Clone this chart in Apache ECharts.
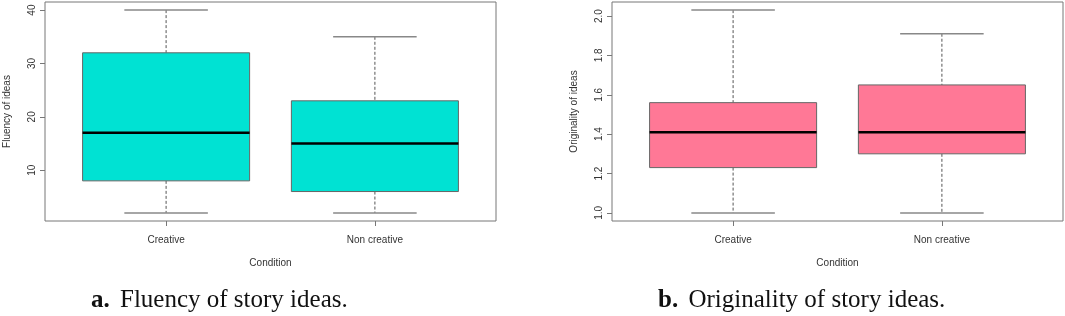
<!DOCTYPE html>
<html>
<head>
<meta charset="utf-8">
<script src="https://cdn.jsdelivr.net/npm/echarts@6/dist/echarts.min.js"></script>
<style>
	html, body { margin: 0; padding: 0; background: #fff; }
	#main { width: 1065px; height: 316px; }
</style>
</head>
<body>
<div id="main"></div>
<script>
// categories and box stats (low whisker, Q1, median, Q3, high whisker)
var categories = ['Creative', 'Non creative'];

var fluencyLow = [2, 2];
var fluencyQ1 = [8, 6];
var fluencyMedian = [17, 15];
var fluencyQ3 = [32, 23];
var fluencyHigh = [40, 35];

var origLow = [1.0, 1.0];
var origQ1 = [1.23, 1.30];
var origMedian = [1.41, 1.41];
var origQ3 = [1.56, 1.65];
var origHigh = [2.03, 1.91];

var fluencyTicks = [10, 20, 30, 40];
var origTicks = [1.0, 1.2, 1.4, 1.6, 1.8, 2.0];

function buildRows(low, q1, med, q3, high) {
	var rows = [];
	for (var i = 0; i < categories.length; i++) {
		rows.push([i + 1, low[i], q1[i], med[i], q3[i], high[i]]);
	}
	return rows;
}

// R style box: dashed whiskers, staples, filled box, thick median
function makeRender(fill) {
	return function (params, api) {
		var x = api.value(0);
		var low = api.coord([x, api.value(1)]);
		var q1 = api.coord([x, api.value(2)]);
		var med = api.coord([x, api.value(3)]);
		var q3 = api.coord([x, api.value(4)]);
		var high = api.coord([x, api.value(5)]);
		var l = api.coord([x - 0.4, 0])[0];
		var r = api.coord([x + 0.4, 0])[0];
		var sl = api.coord([x - 0.2, 0])[0];
		var sr = api.coord([x + 0.2, 0])[0];
		var cx = low[0];
		return {
			type: 'group',
			children: [
				{ type: 'line', shape: { x1: cx, y1: high[1], x2: cx, y2: q3[1] }, style: { stroke: '#555', lineWidth: 1, lineDash: [3, 2] } },
				{ type: 'line', shape: { x1: cx, y1: q1[1], x2: cx, y2: low[1] }, style: { stroke: '#555', lineWidth: 1, lineDash: [3, 2] } },
				{ type: 'line', shape: { x1: sl, y1: high[1], x2: sr, y2: high[1] }, style: { stroke: '#888', lineWidth: 1.5 } },
				{ type: 'line', shape: { x1: sl, y1: low[1], x2: sr, y2: low[1] }, style: { stroke: '#888', lineWidth: 1.5 } },
				{ type: 'rect', shape: { x: l, y: q3[1], width: r - l, height: q1[1] - q3[1] }, style: { fill: fill, stroke: '#666', lineWidth: 1 } },
				{ type: 'line', shape: { x1: l, y1: med[1], x2: r, y2: med[1] }, style: { stroke: '#000', lineWidth: 2.5 } }
			]
		};
	};
}

var labelFont = { fontFamily: 'Liberation Sans', fontSize: 10, color: '#333' };

function xAxisCfg(gridIndex) {
	return {
		type: 'value', gridIndex: gridIndex, min: 0.42, max: 2.58,
		name: 'Condition', nameLocation: 'middle', nameGap: 37,
		nameTextStyle: labelFont,
		axisLine: { show: false },
		splitLine: { show: false },
		axisTick: { show: true, length: 5, customValues: [1, 2], lineStyle: { color: '#777' } },
		axisLabel: {
			customValues: [1, 2], margin: 14,
			fontFamily: 'Liberation Sans', fontSize: 10, color: '#333',
			formatter: function (v) { return categories[Math.round(v) - 1]; }
		}
	};
}

function yAxisCfg(gridIndex, min, max, ticks, name, digits) {
	return {
		type: 'value', gridIndex: gridIndex, min: min, max: max,
		name: name, nameLocation: 'middle', nameGap: 33, nameRotate: 90,
		nameTextStyle: labelFont,
		axisLine: { show: false },
		splitLine: { show: false },
		axisTick: { show: true, length: 5, customValues: ticks, lineStyle: { color: '#777' } },
		axisLabel: {
			customValues: ticks, rotate: 90, margin: 8,
			fontFamily: 'Liberation Sans', fontSize: 10, color: '#333',
			formatter: function (v) { return v.toFixed(digits); }
		}
	};
}

var captionStyle = {
	fontFamily: 'Liberation Serif', fontSize: 25, fontWeight: 'normal', color: '#111',
	rich: { b: { fontFamily: 'Liberation Serif', fontSize: 25, fontWeight: 'bold', color: '#111', padding: [0, 4, 0, 0] } }
};

var myChart = echarts.init(document.getElementById('main'), null, { renderer: 'canvas' });
var option = {
	animation: false,
	backgroundColor: '#fff',
	title: [{
		text: '{b|a.} Fluency of story ideas.',
		left: 86, top: 283,
		textStyle: captionStyle
	}, {
		text: '{b|b.} Originality of story ideas.',
		left: 653, top: 283,
		textStyle: captionStyle
	}],
	grid: [
		{ left: 45, top: 2, width: 451, height: 219, outerBoundsMode: 'none', show: true, borderColor: '#777', borderWidth: 1, backgroundColor: 'transparent' },
		{ left: 612, top: 2, width: 451, height: 219, outerBoundsMode: 'none', show: true, borderColor: '#777', borderWidth: 1, backgroundColor: 'transparent' }
	],
	xAxis: [xAxisCfg(0), xAxisCfg(1)],
	yAxis: [
		yAxisCfg(0, 0.48, 41.52, fluencyTicks, 'Fluency of ideas', 0),
		yAxisCfg(1, 0.9588, 2.0712, origTicks, 'Originality of ideas', 1)
	],
	series: [{
		type: 'custom',
		xAxisIndex: 0, yAxisIndex: 0,
		renderItem: makeRender('#00E2D3'),
		encode: { x: 0, y: [1, 2, 3, 4, 5] },
		data: buildRows(fluencyLow, fluencyQ1, fluencyMedian, fluencyQ3, fluencyHigh)
	}, {
		type: 'custom',
		xAxisIndex: 1, yAxisIndex: 1,
		renderItem: makeRender('#FF7896'),
		encode: { x: 0, y: [1, 2, 3, 4, 5] },
		data: buildRows(origLow, origQ1, origMedian, origQ3, origHigh)
	}]
};
myChart.setOption(option);
</script>
</body>
</html>
